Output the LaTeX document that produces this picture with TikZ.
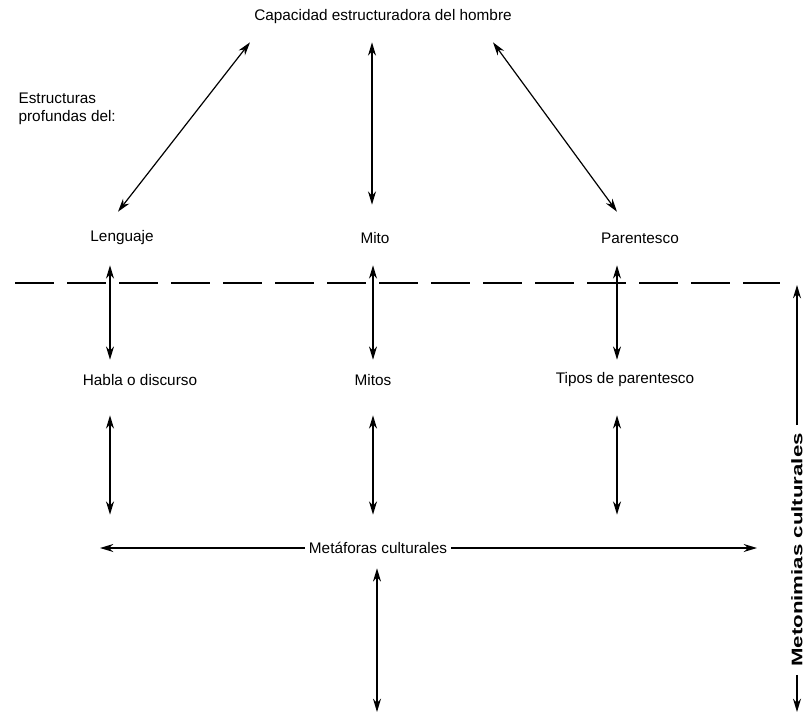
\documentclass[tikz,border=0pt]{standalone}
\usepackage{fontspec}
\setmainfont{Liberation Sans}
\usepackage{tikz}
\usetikzlibrary{arrows.meta,calc}

\begin{document}
\begin{tikzpicture}[
    x=0.75pt, y=-0.75pt,
    lbl/.style={font=\fontsize{11.5}{13.5}\selectfont, inner sep=1pt, minimum height=14pt},
    arr/.style={{Stealth[length=10pt,width=6pt]}-{Stealth[length=10pt,width=6pt]}, line width=0.9pt},
    oneway/.style={-{Stealth[length=10pt,width=6pt]}, line width=0.9pt},
    divider/.style={line width=1.1pt, dash pattern=on 29pt off 10pt}
]
\useasboundingbox (0,0) rectangle (804,714);

% Top and side labels
\node[lbl] (cap) at (383,17) {Capacidad estructuradora del hombre};
\node[lbl, anchor=west, align=left] (est) at (17,109) {Estructuras\\profundas del:};

% Deep structures
\node[lbl] (leng) at (122,238) {Lenguaje};
\node[lbl] (mito) at (375,238) {Mito};
\node[lbl] (par)  at (640,238) {Parentesco};

% Surface level
\node[lbl] (habla) at (140,380) {Habla o discurso};
\node[lbl] (mitos) at (373,380) {Mitos};
\node[lbl] (tipos) at (625,380) {Tipos de parentesco};

\node[lbl, inner xsep=3pt] (meta) at (378,548) {Metáforas culturales};
\node[lbl, font=\fontsize{11.5}{13.5}\selectfont\bfseries, rotate=90, xscale=1.45, inner xsep=4pt] (meto) at (797,550) {Metonimias culturales};

\coordinate (dl) at (15,283);
\coordinate (dr) at (780,283);
\coordinate (mleft) at (100,548);
\coordinate (mright) at (757,548);
\coordinate (mbot) at (377,712);
\coordinate (rtop) at (797,285);
\coordinate (rbot) at (797,712);

% Capacity to structures
\draw[arr] ([xshift=-99.75pt, yshift=-11.8pt]cap.south) -- ([xshift=-3pt, yshift=12.5pt]leng.north);
\draw[arr] ([xshift=-8.25pt, yshift=-11.8pt]cap.south) -- ([xshift=-2.25pt, yshift=17.8pt]mito.north);
\draw[arr] ([xshift=82.5pt, yshift=-11.8pt]cap.south) -- ([xshift=-17.25pt, yshift=12.5pt]par.north);

% Divider
\draw[divider] (dl) -- (dr);

% Structures to surface
\draw[arr] ([xshift=-9pt, yshift=-13.3pt]leng.south) -- ([xshift=-22.5pt, yshift=8pt]habla.north);
\draw[arr] ([xshift=-1.5pt, yshift=-13.3pt]mito.south) -- ([yshift=8pt]mitos.north);
\draw[arr] ([xshift=-17.25pt, yshift=-13.3pt]par.south) -- ([xshift=-6pt, yshift=8pt]tipos.north);

% Surface to metaphors
\draw[arr, line width=1.1pt] ([xshift=-22.5pt, yshift=-19.3pt]habla.south) -- ([xshift=-201pt, yshift=17.8pt]meta.north);
\draw[arr, line width=1.1pt] ([yshift=-19.3pt]mitos.south) -- ([xshift=-3.75pt, yshift=17.8pt]meta.north);
\draw[arr, line width=1.1pt] ([xshift=-6pt, yshift=-19.3pt]tipos.south) -- ([xshift=179.25pt, yshift=17.8pt]meta.north);

% Metaphor line
\draw[oneway] (meta.west) -- (mleft);
\draw[oneway] (meta.east) -- (mright);
\draw[arr] ([xshift=-0.75pt, yshift=-8pt]meta.south) -- (mbot);

% Metonymy axis
\draw[oneway] (meto.east) -- (rtop);
\draw[oneway] (meto.west) -- (rbot);

\end{tikzpicture}
\end{document}
